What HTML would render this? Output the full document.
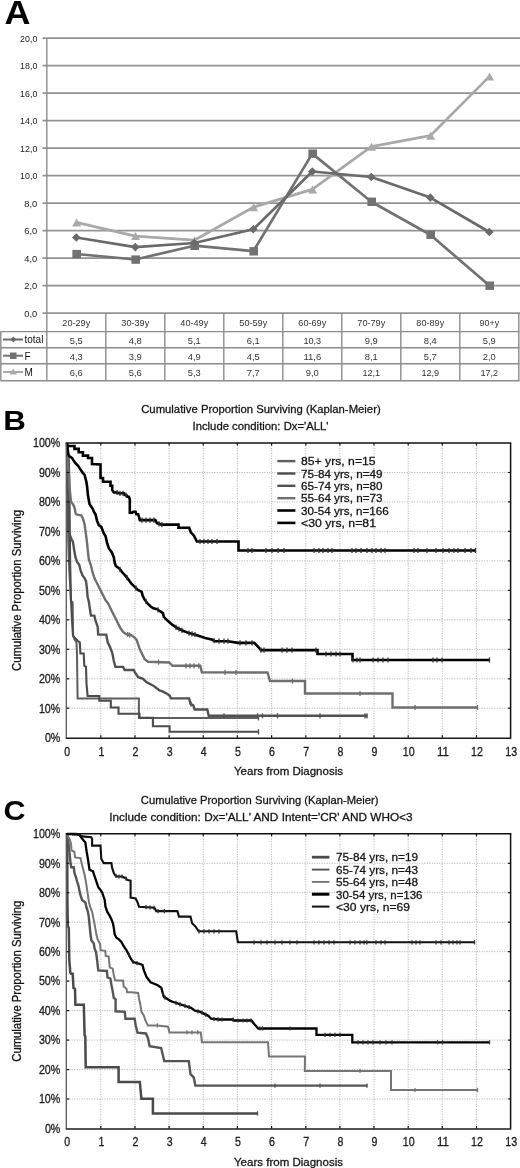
<!DOCTYPE html>
<html><head><meta charset="utf-8"><style>
html,body{margin:0;padding:0;background:#fff;overflow:hidden;}
svg{display:block;font-family:"Liberation Sans", sans-serif;filter:grayscale(100%);}
.k{stroke:#1a1a1a;stroke-width:0.3px;}
</style></head><body>
<svg width="520" height="1168" viewBox="0 0 520 1168">
<rect width="520" height="1168" fill="#fff"/>
<text transform="translate(4.4,23.6) scale(1.09,1)" font-size="33" font-weight="700" fill="#000">A</text>
<line x1="42.5" y1="313.1" x2="520" y2="313.1" stroke="#939393" stroke-width="1.6"/>
<text x="24.3" y="316.5" font-size="8.8" fill="#222" textLength="13.0" lengthAdjust="spacingAndGlyphs">0,0</text>
<line x1="42.5" y1="285.6" x2="520" y2="285.6" stroke="#939393" stroke-width="1.6"/>
<text x="24.3" y="289.0" font-size="8.8" fill="#222" textLength="13.0" lengthAdjust="spacingAndGlyphs">2,0</text>
<line x1="42.5" y1="258.1" x2="520" y2="258.1" stroke="#939393" stroke-width="1.6"/>
<text x="24.3" y="261.5" font-size="8.8" fill="#222" textLength="13.0" lengthAdjust="spacingAndGlyphs">4,0</text>
<line x1="42.5" y1="230.6" x2="520" y2="230.6" stroke="#939393" stroke-width="1.6"/>
<text x="24.3" y="234.0" font-size="8.8" fill="#222" textLength="13.0" lengthAdjust="spacingAndGlyphs">6,0</text>
<line x1="42.5" y1="203.1" x2="520" y2="203.1" stroke="#939393" stroke-width="1.6"/>
<text x="24.3" y="206.5" font-size="8.8" fill="#222" textLength="13.0" lengthAdjust="spacingAndGlyphs">8,0</text>
<line x1="42.5" y1="175.6" x2="520" y2="175.6" stroke="#939393" stroke-width="1.6"/>
<text x="20.1" y="179.0" font-size="8.8" fill="#222" textLength="17.2" lengthAdjust="spacingAndGlyphs">10,0</text>
<line x1="42.5" y1="148.1" x2="520" y2="148.1" stroke="#939393" stroke-width="1.6"/>
<text x="20.1" y="151.5" font-size="8.8" fill="#222" textLength="17.2" lengthAdjust="spacingAndGlyphs">12,0</text>
<line x1="42.5" y1="120.6" x2="520" y2="120.6" stroke="#939393" stroke-width="1.6"/>
<text x="20.1" y="124.0" font-size="8.8" fill="#222" textLength="17.2" lengthAdjust="spacingAndGlyphs">14,0</text>
<line x1="42.5" y1="93.1" x2="520" y2="93.1" stroke="#939393" stroke-width="1.6"/>
<text x="20.1" y="96.5" font-size="8.8" fill="#222" textLength="17.2" lengthAdjust="spacingAndGlyphs">16,0</text>
<line x1="42.5" y1="65.6" x2="520" y2="65.6" stroke="#939393" stroke-width="1.6"/>
<text x="20.1" y="69.0" font-size="8.8" fill="#222" textLength="17.2" lengthAdjust="spacingAndGlyphs">18,0</text>
<line x1="42.5" y1="38.1" x2="520" y2="38.1" stroke="#939393" stroke-width="1.6"/>
<text x="20.1" y="41.5" font-size="8.8" fill="#222" textLength="17.2" lengthAdjust="spacingAndGlyphs">20,0</text>
<line x1="46.8" y1="38" x2="46.8" y2="381" stroke="#8c8c8c" stroke-width="1.4"/>
<line x1="0.5" y1="331.6" x2="519.6" y2="331.6" stroke="#8c8c8c" stroke-width="1.4"/>
<line x1="0.5" y1="347.7" x2="519.6" y2="347.7" stroke="#8c8c8c" stroke-width="1.4"/>
<line x1="0.5" y1="363.8" x2="519.6" y2="363.8" stroke="#8c8c8c" stroke-width="1.4"/>
<line x1="0.5" y1="380.7" x2="519.6" y2="380.7" stroke="#8c8c8c" stroke-width="1.4"/>
<line x1="0.8" y1="331.6" x2="0.8" y2="380.7" stroke="#8c8c8c" stroke-width="1.4"/>
<line x1="105.8" y1="313.1" x2="105.8" y2="380.7" stroke="#8c8c8c" stroke-width="1.4"/>
<line x1="164.8" y1="313.1" x2="164.8" y2="380.7" stroke="#8c8c8c" stroke-width="1.4"/>
<line x1="223.8" y1="313.1" x2="223.8" y2="380.7" stroke="#8c8c8c" stroke-width="1.4"/>
<line x1="282.8" y1="313.1" x2="282.8" y2="380.7" stroke="#8c8c8c" stroke-width="1.4"/>
<line x1="341.8" y1="313.1" x2="341.8" y2="380.7" stroke="#8c8c8c" stroke-width="1.4"/>
<line x1="400.8" y1="313.1" x2="400.8" y2="380.7" stroke="#8c8c8c" stroke-width="1.4"/>
<line x1="459.8" y1="313.1" x2="459.8" y2="380.7" stroke="#8c8c8c" stroke-width="1.4"/>
<line x1="518.8" y1="313.1" x2="518.8" y2="380.7" stroke="#8c8c8c" stroke-width="1.4"/>
<text x="62.3" y="326.4" font-size="9" fill="#333" textLength="28.0" lengthAdjust="spacingAndGlyphs">20-29y</text>
<text x="69.8" y="343.9" font-size="9.5" fill="#333" textLength="13.0" lengthAdjust="spacingAndGlyphs">5,5</text>
<text x="69.8" y="359.8" font-size="9.5" fill="#333" textLength="13.0" lengthAdjust="spacingAndGlyphs">4,3</text>
<text x="69.8" y="376.0" font-size="9.5" fill="#333" textLength="13.0" lengthAdjust="spacingAndGlyphs">6,6</text>
<text x="121.3" y="326.4" font-size="9" fill="#333" textLength="28.0" lengthAdjust="spacingAndGlyphs">30-39y</text>
<text x="128.8" y="343.9" font-size="9.5" fill="#333" textLength="13.0" lengthAdjust="spacingAndGlyphs">4,8</text>
<text x="128.8" y="359.8" font-size="9.5" fill="#333" textLength="13.0" lengthAdjust="spacingAndGlyphs">3,9</text>
<text x="128.8" y="376.0" font-size="9.5" fill="#333" textLength="13.0" lengthAdjust="spacingAndGlyphs">5,6</text>
<text x="180.3" y="326.4" font-size="9" fill="#333" textLength="28.0" lengthAdjust="spacingAndGlyphs">40-49y</text>
<text x="187.8" y="343.9" font-size="9.5" fill="#333" textLength="13.0" lengthAdjust="spacingAndGlyphs">5,1</text>
<text x="187.8" y="359.8" font-size="9.5" fill="#333" textLength="13.0" lengthAdjust="spacingAndGlyphs">4,9</text>
<text x="187.8" y="376.0" font-size="9.5" fill="#333" textLength="13.0" lengthAdjust="spacingAndGlyphs">5,3</text>
<text x="239.3" y="326.4" font-size="9" fill="#333" textLength="28.0" lengthAdjust="spacingAndGlyphs">50-59y</text>
<text x="246.8" y="343.9" font-size="9.5" fill="#333" textLength="13.0" lengthAdjust="spacingAndGlyphs">6,1</text>
<text x="246.8" y="359.8" font-size="9.5" fill="#333" textLength="13.0" lengthAdjust="spacingAndGlyphs">4,5</text>
<text x="246.8" y="376.0" font-size="9.5" fill="#333" textLength="13.0" lengthAdjust="spacingAndGlyphs">7,7</text>
<text x="298.3" y="326.4" font-size="9" fill="#333" textLength="28.0" lengthAdjust="spacingAndGlyphs">60-69y</text>
<text x="303.4" y="343.9" font-size="9.5" fill="#333" textLength="17.8" lengthAdjust="spacingAndGlyphs">10,3</text>
<text x="303.4" y="359.8" font-size="9.5" fill="#333" textLength="17.8" lengthAdjust="spacingAndGlyphs">11,6</text>
<text x="305.8" y="376.0" font-size="9.5" fill="#333" textLength="13.0" lengthAdjust="spacingAndGlyphs">9,0</text>
<text x="357.3" y="326.4" font-size="9" fill="#333" textLength="28.0" lengthAdjust="spacingAndGlyphs">70-79y</text>
<text x="364.8" y="343.9" font-size="9.5" fill="#333" textLength="13.0" lengthAdjust="spacingAndGlyphs">9,9</text>
<text x="364.8" y="359.8" font-size="9.5" fill="#333" textLength="13.0" lengthAdjust="spacingAndGlyphs">8,1</text>
<text x="362.4" y="376.0" font-size="9.5" fill="#333" textLength="17.8" lengthAdjust="spacingAndGlyphs">12,1</text>
<text x="416.3" y="326.4" font-size="9" fill="#333" textLength="28.0" lengthAdjust="spacingAndGlyphs">80-89y</text>
<text x="423.8" y="343.9" font-size="9.5" fill="#333" textLength="13.0" lengthAdjust="spacingAndGlyphs">8,4</text>
<text x="423.8" y="359.8" font-size="9.5" fill="#333" textLength="13.0" lengthAdjust="spacingAndGlyphs">5,7</text>
<text x="421.4" y="376.0" font-size="9.5" fill="#333" textLength="17.8" lengthAdjust="spacingAndGlyphs">12,9</text>
<text x="479.5" y="326.4" font-size="9" fill="#333" textLength="19.6" lengthAdjust="spacingAndGlyphs">90+y</text>
<text x="482.8" y="343.9" font-size="9.5" fill="#333" textLength="13.0" lengthAdjust="spacingAndGlyphs">5,9</text>
<text x="482.8" y="359.8" font-size="9.5" fill="#333" textLength="13.0" lengthAdjust="spacingAndGlyphs">2,0</text>
<text x="480.4" y="376.0" font-size="9.5" fill="#333" textLength="17.8" lengthAdjust="spacingAndGlyphs">17,2</text>
<line x1="3" y1="339.5" x2="23" y2="339.5" stroke="#6a6a6a" stroke-width="2"/>
<path d="M13.3,336.5 L16.3,339.5 L13.3,342.5 L10.3,339.5Z" fill="#6a6a6a"/>
<text x="24.5" y="343.3" font-size="10" fill="#111">total</text>
<line x1="3" y1="355.7" x2="23" y2="355.7" stroke="#727272" stroke-width="2"/>
<rect x="10" y="352.5" width="6.5" height="6.5" fill="#727272"/>
<text x="24.5" y="359.5" font-size="10" fill="#111">F</text>
<line x1="3" y1="372" x2="23" y2="372" stroke="#a9a9a9" stroke-width="2"/>
<path d="M13.3,368.5 L17,374.5 L9.6,374.5Z" fill="#a9a9a9"/>
<text x="24.5" y="375.8" font-size="10" fill="#111">M</text>
<polyline points="76.3,222.4 135.3,236.1 194.3,240.2 253.3,207.2 312.3,189.4 371.3,146.7 430.3,135.7 489.3,76.6" fill="none" stroke="#a9a9a9" stroke-width="2.7" stroke-linejoin="round"/>
<path d="M76.6,218.4 L81.1,226.4 L72.1,226.4Z" fill="#a9a9a9"/>
<path d="M135.6,232.1 L140.1,240.1 L131.1,240.1Z" fill="#a9a9a9"/>
<path d="M194.6,236.2 L199.1,244.2 L190.1,244.2Z" fill="#a9a9a9"/>
<path d="M253.6,203.2 L258.1,211.2 L249.1,211.2Z" fill="#a9a9a9"/>
<path d="M312.6,185.4 L317.1,193.4 L308.1,193.4Z" fill="#a9a9a9"/>
<path d="M371.6,142.7 L376.1,150.7 L367.1,150.7Z" fill="#a9a9a9"/>
<path d="M430.6,131.7 L435.1,139.7 L426.1,139.7Z" fill="#a9a9a9"/>
<path d="M489.6,72.6 L494.1,80.6 L485.1,80.6Z" fill="#a9a9a9"/>
<polyline points="76.3,254.0 135.3,259.5 194.3,245.7 253.3,251.2 312.3,153.6 371.3,201.7 430.3,234.7 489.3,285.6" fill="none" stroke="#727272" stroke-width="2.7" stroke-linejoin="round"/>
<rect x="72.4" y="249.9" width="8.6" height="8.4" fill="#727272"/>
<rect x="131.4" y="255.4" width="8.6" height="8.4" fill="#727272"/>
<rect x="190.4" y="241.6" width="8.6" height="8.4" fill="#727272"/>
<rect x="249.4" y="247.1" width="8.6" height="8.4" fill="#727272"/>
<rect x="308.4" y="149.5" width="8.6" height="8.4" fill="#727272"/>
<rect x="367.4" y="197.6" width="8.6" height="8.4" fill="#727272"/>
<rect x="426.4" y="230.6" width="8.6" height="8.4" fill="#727272"/>
<rect x="485.4" y="281.5" width="8.6" height="8.4" fill="#727272"/>
<polyline points="76.3,237.5 135.3,247.1 194.3,243.0 253.3,229.2 312.3,171.5 371.3,177.0 430.3,197.6 489.3,232.0" fill="none" stroke="#6a6a6a" stroke-width="2.7" stroke-linejoin="round"/>
<path d="M76.3,233.2 L80.6,237.5 L76.3,241.8 L72.0,237.5Z" fill="#6a6a6a"/>
<path d="M135.3,242.8 L139.6,247.1 L135.3,251.4 L131.0,247.1Z" fill="#6a6a6a"/>
<path d="M194.3,238.7 L198.6,243.0 L194.3,247.3 L190.0,243.0Z" fill="#6a6a6a"/>
<path d="M253.3,224.9 L257.6,229.2 L253.3,233.5 L249.0,229.2Z" fill="#6a6a6a"/>
<path d="M312.3,167.2 L316.6,171.5 L312.3,175.8 L308.0,171.5Z" fill="#6a6a6a"/>
<path d="M371.3,172.7 L375.6,177.0 L371.3,181.3 L367.0,177.0Z" fill="#6a6a6a"/>
<path d="M430.3,193.3 L434.6,197.6 L430.3,201.9 L426.0,197.6Z" fill="#6a6a6a"/>
<path d="M489.3,227.7 L493.6,232.0 L489.3,236.3 L485.0,232.0Z" fill="#6a6a6a"/>
<text transform="translate(3.3,429.6) scale(1.17,1)" font-size="26.8" font-weight="700" fill="#000">B</text>
<text class="k" x="141.2" y="413.1" font-size="11.8" fill="#111" textLength="239.5" lengthAdjust="spacingAndGlyphs">Cumulative Proportion Surviving (Kaplan-Meier)</text>
<text class="k" x="192.5" y="430.0" font-size="11.8" fill="#111" textLength="136.0" lengthAdjust="spacingAndGlyphs">Include condition: Dx=&#39;ALL&#39;</text>
<line x1="66.7" y1="472.5" x2="510.6" y2="472.5" stroke="#bababa" stroke-width="1" stroke-dasharray="1.2,1.3"/>
<line x1="66.7" y1="501.9" x2="510.6" y2="501.9" stroke="#bababa" stroke-width="1" stroke-dasharray="1.2,1.3"/>
<line x1="66.7" y1="531.4" x2="510.6" y2="531.4" stroke="#bababa" stroke-width="1" stroke-dasharray="1.2,1.3"/>
<line x1="66.7" y1="560.9" x2="510.6" y2="560.9" stroke="#bababa" stroke-width="1" stroke-dasharray="1.2,1.3"/>
<line x1="66.7" y1="590.4" x2="510.6" y2="590.4" stroke="#bababa" stroke-width="1" stroke-dasharray="1.2,1.3"/>
<line x1="66.7" y1="619.8" x2="510.6" y2="619.8" stroke="#bababa" stroke-width="1" stroke-dasharray="1.2,1.3"/>
<line x1="66.7" y1="649.3" x2="510.6" y2="649.3" stroke="#bababa" stroke-width="1" stroke-dasharray="1.2,1.3"/>
<line x1="66.7" y1="678.8" x2="510.6" y2="678.8" stroke="#bababa" stroke-width="1" stroke-dasharray="1.2,1.3"/>
<line x1="66.7" y1="708.2" x2="510.6" y2="708.2" stroke="#bababa" stroke-width="1" stroke-dasharray="1.2,1.3"/>
<line x1="100.8" y1="443" x2="100.8" y2="737.7" stroke="#bababa" stroke-width="1" stroke-dasharray="1.2,1.3"/>
<line x1="135.0" y1="443" x2="135.0" y2="737.7" stroke="#bababa" stroke-width="1" stroke-dasharray="1.2,1.3"/>
<line x1="169.1" y1="443" x2="169.1" y2="737.7" stroke="#bababa" stroke-width="1" stroke-dasharray="1.2,1.3"/>
<line x1="203.3" y1="443" x2="203.3" y2="737.7" stroke="#bababa" stroke-width="1" stroke-dasharray="1.2,1.3"/>
<line x1="237.4" y1="443" x2="237.4" y2="737.7" stroke="#bababa" stroke-width="1" stroke-dasharray="1.2,1.3"/>
<line x1="271.6" y1="443" x2="271.6" y2="737.7" stroke="#bababa" stroke-width="1" stroke-dasharray="1.2,1.3"/>
<line x1="305.8" y1="443" x2="305.8" y2="737.7" stroke="#bababa" stroke-width="1" stroke-dasharray="1.2,1.3"/>
<line x1="339.9" y1="443" x2="339.9" y2="737.7" stroke="#bababa" stroke-width="1" stroke-dasharray="1.2,1.3"/>
<line x1="374.0" y1="443" x2="374.0" y2="737.7" stroke="#bababa" stroke-width="1" stroke-dasharray="1.2,1.3"/>
<line x1="408.2" y1="443" x2="408.2" y2="737.7" stroke="#bababa" stroke-width="1" stroke-dasharray="1.2,1.3"/>
<line x1="442.3" y1="443" x2="442.3" y2="737.7" stroke="#bababa" stroke-width="1" stroke-dasharray="1.2,1.3"/>
<line x1="476.5" y1="443" x2="476.5" y2="737.7" stroke="#bababa" stroke-width="1" stroke-dasharray="1.2,1.3"/>
<text class="k" x="44.9" y="742.0" font-size="12" fill="#222" textLength="15.4" lengthAdjust="spacingAndGlyphs">0%</text>
<text class="k" x="38.9" y="712.5" font-size="12" fill="#222" textLength="21.4" lengthAdjust="spacingAndGlyphs">10%</text>
<text class="k" x="38.9" y="683.1" font-size="12" fill="#222" textLength="21.4" lengthAdjust="spacingAndGlyphs">20%</text>
<text class="k" x="38.9" y="653.6" font-size="12" fill="#222" textLength="21.4" lengthAdjust="spacingAndGlyphs">30%</text>
<text class="k" x="38.9" y="624.1" font-size="12" fill="#222" textLength="21.4" lengthAdjust="spacingAndGlyphs">40%</text>
<text class="k" x="38.9" y="594.6" font-size="12" fill="#222" textLength="21.4" lengthAdjust="spacingAndGlyphs">50%</text>
<text class="k" x="38.9" y="565.2" font-size="12" fill="#222" textLength="21.4" lengthAdjust="spacingAndGlyphs">60%</text>
<text class="k" x="38.9" y="535.7" font-size="12" fill="#222" textLength="21.4" lengthAdjust="spacingAndGlyphs">70%</text>
<text class="k" x="38.9" y="506.2" font-size="12" fill="#222" textLength="21.4" lengthAdjust="spacingAndGlyphs">80%</text>
<text class="k" x="38.9" y="476.8" font-size="12" fill="#222" textLength="21.4" lengthAdjust="spacingAndGlyphs">90%</text>
<text class="k" x="33.0" y="447.3" font-size="12" fill="#222" textLength="27.3" lengthAdjust="spacingAndGlyphs">100%</text>
<text class="k" x="64.2" y="755.5" font-size="12" fill="#222" textLength="5.9" lengthAdjust="spacingAndGlyphs">0</text>
<text class="k" x="98.4" y="755.5" font-size="12" fill="#222" textLength="5.9" lengthAdjust="spacingAndGlyphs">1</text>
<text class="k" x="132.5" y="755.5" font-size="12" fill="#222" textLength="5.9" lengthAdjust="spacingAndGlyphs">2</text>
<text class="k" x="166.7" y="755.5" font-size="12" fill="#222" textLength="5.9" lengthAdjust="spacingAndGlyphs">3</text>
<text class="k" x="200.8" y="755.5" font-size="12" fill="#222" textLength="5.9" lengthAdjust="spacingAndGlyphs">4</text>
<text class="k" x="235.0" y="755.5" font-size="12" fill="#222" textLength="5.9" lengthAdjust="spacingAndGlyphs">5</text>
<text class="k" x="269.1" y="755.5" font-size="12" fill="#222" textLength="5.9" lengthAdjust="spacingAndGlyphs">6</text>
<text class="k" x="303.3" y="755.5" font-size="12" fill="#222" textLength="5.9" lengthAdjust="spacingAndGlyphs">7</text>
<text class="k" x="337.4" y="755.5" font-size="12" fill="#222" textLength="5.9" lengthAdjust="spacingAndGlyphs">8</text>
<text class="k" x="371.6" y="755.5" font-size="12" fill="#222" textLength="5.9" lengthAdjust="spacingAndGlyphs">9</text>
<text class="k" x="402.8" y="755.5" font-size="12" fill="#222" textLength="11.9" lengthAdjust="spacingAndGlyphs">10</text>
<text class="k" x="436.9" y="755.5" font-size="12" fill="#222" textLength="11.9" lengthAdjust="spacingAndGlyphs">11</text>
<text class="k" x="471.1" y="755.5" font-size="12" fill="#222" textLength="11.9" lengthAdjust="spacingAndGlyphs">12</text>
<text class="k" x="505.2" y="755.5" font-size="12" fill="#222" textLength="11.9" lengthAdjust="spacingAndGlyphs">13</text>
<text class="k" x="234.0" y="775.2" font-size="11.8" fill="#111" textLength="109" lengthAdjust="spacingAndGlyphs">Years from Diagnosis</text>
<text class="k" transform="translate(20.6,670.9) rotate(-90)" x="0" y="0" font-size="12.2" fill="#111" textLength="161" lengthAdjust="spacingAndGlyphs">Cumulative Proportion Surviving</text>
<polyline points="67.0,443.0 67.6,455.0 67.9,500.0 68.2,540.0 68.8,560.0 69.8,580.0 70.4,590.0 70.9,601.0 72.6,602.3 73.1,634.6 74.3,639.0 76.5,642.4 77.0,654.6 77.6,698.6 138.9,698.6 138.9,717.9 258.9,717.9" fill="none" stroke="#5e5e5e" stroke-width="2.0" stroke-linejoin="miter"/>
<polyline points="67.0,443.0 68.6,453.0 69.4,480.0 69.8,530.0 70.2,565.0 71.0,600.0 72.0,620.0 73.0,636.0 78.2,641.3 79.8,642.4 80.4,653.5 83.7,653.5 84.3,665.8 86.0,666.9 86.5,683.6 87.6,696.0 99.3,696.0 99.3,700.8 110.8,700.8 110.8,707.5 118.5,707.5 118.5,713.7 139.5,713.7 139.5,717.9 152.9,717.9 152.9,726.3 169.6,726.3 169.6,731.8 258.9,731.8" fill="none" stroke="#4c4c4c" stroke-width="2.1" stroke-linejoin="miter"/>
<polyline points="67.0,443.0 67.4,480.0 68.1,520.0 68.7,531.8 71.2,538.5 72.9,541.9 73.7,546.9 74.5,551.9 75.4,556.9 77.1,561.9 79.2,564.7 80.5,570.1 82.6,575.6 84.7,578.4 86.0,581.1 86.9,588.1 87.6,596.7 88.8,601.5 90.4,612.3 91.0,615.6 94.3,615.6 95.4,620.1 96.5,623.4 97.7,626.8 98.2,634.6 106.2,634.6 107.7,642.3 110.0,646.9 112.3,653.1 113.8,660.8 115.4,666.9 123.1,666.9 124.6,670.0 133.8,670.0 134.9,672.3 138.2,677.2 143.1,678.8 146.3,682.1 152.9,685.4 159.4,690.3 161.3,690.8 165.4,692.8 169.6,695.6 171.0,698.4 189.1,698.4 190.5,703.9 193.3,705.3 194.7,709.5 207.3,709.5 208.7,715.8 367.5,715.8" fill="none" stroke="#515151" stroke-width="2.4" stroke-linejoin="miter"/>
<polyline points="67.0,443.0 67.5,455.0 68.2,467.4 69.6,488.0 71.0,501.6 73.0,504.4 74.4,507.1 75.8,514.0 77.1,514.7 81.2,515.3 82.9,518.4 84.6,524.3 85.4,530.2 86.3,536.8 87.1,543.5 87.9,551.5 88.8,559.2 90.8,565.0 92.7,572.7 94.6,578.5 96.5,582.3 98.5,586.2 100.4,590.0 103.3,595.8 105.2,599.6 108.1,603.5 110.0,607.3 111.9,611.2 113.8,615.0 115.8,618.8 117.7,622.7 120.6,628.5 123.5,632.3 126.3,634.2 131.2,635.2 134.0,637.1 136.5,639.6 139.8,649.4 144.7,659.2 148.0,661.8 169.2,662.5 172.5,665.8 200.3,665.8 201.9,672.3 267.5,672.5 270.0,681.0 305.0,681.0 305.0,693.5 392.5,693.5 392.5,707.5 477.5,707.5" fill="none" stroke="#6f6f6f" stroke-width="2.4" stroke-linejoin="miter"/>
<polyline points="67.0,443.0 67.9,453.9 69.5,456.4 72.0,458.0 73.7,460.6 75.4,463.1 77.9,465.6 79.6,468.1 81.2,470.6 82.9,473.1 84.6,474.8 85.4,478.2 86.3,481.5 87.1,486.5 87.9,495.0 88.8,500.0 89.6,504.2 91.3,506.7 93.0,509.2 93.8,511.8 95.5,514.3 96.3,517.6 97.1,521.0 98.8,525.1 101.3,526.8 102.2,529.3 103.8,533.5 105.5,536.0 106.3,539.4 107.2,543.5 109.0,548.7 111.9,552.5 113.8,557.3 114.8,563.1 115.8,566.0 119.6,568.8 122.5,572.7 125.4,575.6 128.3,579.4 131.2,583.3 134.0,586.2 137.9,590.0 141.7,591.9 142.7,595.8 144.6,599.6 147.5,603.5 150.4,606.3 153.3,608.3 157.1,609.2 160.0,611.2 162.9,613.1 163.8,616.9 167.7,620.8 172.5,624.9 177.4,628.2 182.3,630.5 188.8,633.1 195.4,634.7 205.2,638.0 211.7,639.6 215.0,641.2 228.1,641.2 237.9,642.9 254.2,642.9 259.1,647.8 260.8,650.1 317.5,650.1 317.5,654.0 352.5,654.0 352.5,660.0 490.0,660.0" fill="none" stroke="#000" stroke-width="2.6" stroke-linejoin="miter"/>
<polyline points="67.0,446.0 74.5,446.0 74.5,448.9 78.7,448.9 78.7,452.2 82.9,452.2 82.9,455.6 88.0,455.6 88.0,458.0 92.0,458.0 92.0,464.0 100.5,464.5 100.5,478.0 103.0,478.0 103.0,481.8 110.5,481.8 110.5,485.7 112.2,485.7 112.2,490.0 113.9,492.5 117.2,492.5 118.9,493.3 123.9,493.3 124.7,495.0 126.4,495.0 127.2,496.7 128.9,496.7 129.8,499.2 129.8,512.6 132.3,512.6 133.1,511.8 135.6,511.8 136.4,514.3 138.1,514.3 139.0,516.8 139.8,520.1 155.4,520.1 156.9,523.1 161.5,524.6 178.5,524.6 178.5,527.7 189.2,527.7 190.8,532.3 193.8,535.4 196.9,541.5 238.5,541.5 238.5,550.5 475.5,550.5" fill="none" stroke="#000" stroke-width="2.6" stroke-linejoin="miter"/>
<line x1="117.0" y1="489.9" x2="117.0" y2="495.1" stroke="#333" stroke-width="1.3"/>
<line x1="120.0" y1="490.7" x2="120.0" y2="495.9" stroke="#333" stroke-width="1.3"/>
<line x1="123.0" y1="490.7" x2="123.0" y2="495.9" stroke="#333" stroke-width="1.3"/>
<line x1="126.0" y1="492.4" x2="126.0" y2="497.6" stroke="#333" stroke-width="1.3"/>
<line x1="142.0" y1="517.5" x2="142.0" y2="522.7" stroke="#333" stroke-width="1.3"/>
<line x1="146.0" y1="517.5" x2="146.0" y2="522.7" stroke="#333" stroke-width="1.3"/>
<line x1="150.0" y1="517.5" x2="150.0" y2="522.7" stroke="#333" stroke-width="1.3"/>
<line x1="154.0" y1="517.5" x2="154.0" y2="522.7" stroke="#333" stroke-width="1.3"/>
<line x1="159.0" y1="521.2" x2="159.0" y2="526.4" stroke="#333" stroke-width="1.3"/>
<line x1="162.0" y1="522.0" x2="162.0" y2="527.2" stroke="#333" stroke-width="1.3"/>
<line x1="200.0" y1="538.9" x2="200.0" y2="544.1" stroke="#333" stroke-width="1.3"/>
<line x1="204.0" y1="538.9" x2="204.0" y2="544.1" stroke="#333" stroke-width="1.3"/>
<line x1="208.0" y1="538.9" x2="208.0" y2="544.1" stroke="#333" stroke-width="1.3"/>
<line x1="212.0" y1="538.9" x2="212.0" y2="544.1" stroke="#333" stroke-width="1.3"/>
<line x1="217.0" y1="538.9" x2="217.0" y2="544.1" stroke="#333" stroke-width="1.3"/>
<line x1="248.0" y1="547.9" x2="248.0" y2="553.1" stroke="#333" stroke-width="1.3"/>
<line x1="252.0" y1="547.9" x2="252.0" y2="553.1" stroke="#333" stroke-width="1.3"/>
<line x1="266.0" y1="547.9" x2="266.0" y2="553.1" stroke="#333" stroke-width="1.3"/>
<line x1="272.0" y1="547.9" x2="272.0" y2="553.1" stroke="#333" stroke-width="1.3"/>
<line x1="278.0" y1="547.9" x2="278.0" y2="553.1" stroke="#333" stroke-width="1.3"/>
<line x1="284.0" y1="547.9" x2="284.0" y2="553.1" stroke="#333" stroke-width="1.3"/>
<line x1="314.0" y1="547.9" x2="314.0" y2="553.1" stroke="#333" stroke-width="1.3"/>
<line x1="319.0" y1="547.9" x2="319.0" y2="553.1" stroke="#333" stroke-width="1.3"/>
<line x1="323.0" y1="547.9" x2="323.0" y2="553.1" stroke="#333" stroke-width="1.3"/>
<line x1="328.0" y1="547.9" x2="328.0" y2="553.1" stroke="#333" stroke-width="1.3"/>
<line x1="332.0" y1="547.9" x2="332.0" y2="553.1" stroke="#333" stroke-width="1.3"/>
<line x1="352.0" y1="547.9" x2="352.0" y2="553.1" stroke="#333" stroke-width="1.3"/>
<line x1="356.0" y1="547.9" x2="356.0" y2="553.1" stroke="#333" stroke-width="1.3"/>
<line x1="361.0" y1="547.9" x2="361.0" y2="553.1" stroke="#333" stroke-width="1.3"/>
<line x1="367.0" y1="547.9" x2="367.0" y2="553.1" stroke="#333" stroke-width="1.3"/>
<line x1="372.0" y1="547.9" x2="372.0" y2="553.1" stroke="#333" stroke-width="1.3"/>
<line x1="376.0" y1="547.9" x2="376.0" y2="553.1" stroke="#333" stroke-width="1.3"/>
<line x1="381.0" y1="547.9" x2="381.0" y2="553.1" stroke="#333" stroke-width="1.3"/>
<line x1="385.0" y1="547.9" x2="385.0" y2="553.1" stroke="#333" stroke-width="1.3"/>
<line x1="414.0" y1="547.9" x2="414.0" y2="553.1" stroke="#333" stroke-width="1.3"/>
<line x1="418.0" y1="547.9" x2="418.0" y2="553.1" stroke="#333" stroke-width="1.3"/>
<line x1="427.0" y1="547.9" x2="427.0" y2="553.1" stroke="#333" stroke-width="1.3"/>
<line x1="436.0" y1="547.9" x2="436.0" y2="553.1" stroke="#333" stroke-width="1.3"/>
<line x1="443.0" y1="547.9" x2="443.0" y2="553.1" stroke="#333" stroke-width="1.3"/>
<line x1="449.0" y1="547.9" x2="449.0" y2="553.1" stroke="#333" stroke-width="1.3"/>
<line x1="454.0" y1="547.9" x2="454.0" y2="553.1" stroke="#333" stroke-width="1.3"/>
<line x1="458.0" y1="547.9" x2="458.0" y2="553.1" stroke="#333" stroke-width="1.3"/>
<line x1="465.0" y1="547.9" x2="465.0" y2="553.1" stroke="#333" stroke-width="1.3"/>
<line x1="471.0" y1="547.9" x2="471.0" y2="553.1" stroke="#333" stroke-width="1.3"/>
<line x1="475.5" y1="547.9" x2="475.5" y2="553.1" stroke="#333" stroke-width="1.3"/>
<line x1="120.0" y1="566.7" x2="120.0" y2="571.9" stroke="#333" stroke-width="1.3"/>
<line x1="127.0" y1="575.1" x2="127.0" y2="580.3" stroke="#333" stroke-width="1.3"/>
<line x1="136.0" y1="585.5" x2="136.0" y2="590.7" stroke="#333" stroke-width="1.3"/>
<line x1="146.0" y1="598.9" x2="146.0" y2="604.1" stroke="#333" stroke-width="1.3"/>
<line x1="158.0" y1="607.2" x2="158.0" y2="612.4" stroke="#333" stroke-width="1.3"/>
<line x1="176.0" y1="624.7" x2="176.0" y2="629.9" stroke="#333" stroke-width="1.3"/>
<line x1="179.0" y1="626.4" x2="179.0" y2="631.6" stroke="#333" stroke-width="1.3"/>
<line x1="182.0" y1="627.8" x2="182.0" y2="633.0" stroke="#333" stroke-width="1.3"/>
<line x1="189.0" y1="630.5" x2="189.0" y2="635.7" stroke="#333" stroke-width="1.3"/>
<line x1="192.0" y1="631.3" x2="192.0" y2="636.5" stroke="#333" stroke-width="1.3"/>
<line x1="195.0" y1="632.0" x2="195.0" y2="637.2" stroke="#333" stroke-width="1.3"/>
<line x1="214.0" y1="638.1" x2="214.0" y2="643.3" stroke="#333" stroke-width="1.3"/>
<line x1="219.0" y1="638.6" x2="219.0" y2="643.8" stroke="#333" stroke-width="1.3"/>
<line x1="224.0" y1="638.6" x2="224.0" y2="643.8" stroke="#333" stroke-width="1.3"/>
<line x1="228.0" y1="638.6" x2="228.0" y2="643.8" stroke="#333" stroke-width="1.3"/>
<line x1="240.0" y1="640.3" x2="240.0" y2="645.5" stroke="#333" stroke-width="1.3"/>
<line x1="246.0" y1="640.3" x2="246.0" y2="645.5" stroke="#333" stroke-width="1.3"/>
<line x1="252.0" y1="640.3" x2="252.0" y2="645.5" stroke="#333" stroke-width="1.3"/>
<line x1="261.0" y1="647.5" x2="261.0" y2="652.7" stroke="#333" stroke-width="1.3"/>
<line x1="264.0" y1="647.5" x2="264.0" y2="652.7" stroke="#333" stroke-width="1.3"/>
<line x1="282.0" y1="647.5" x2="282.0" y2="652.7" stroke="#333" stroke-width="1.3"/>
<line x1="287.0" y1="647.5" x2="287.0" y2="652.7" stroke="#333" stroke-width="1.3"/>
<line x1="292.0" y1="647.5" x2="292.0" y2="652.7" stroke="#333" stroke-width="1.3"/>
<line x1="316.0" y1="647.5" x2="316.0" y2="652.7" stroke="#333" stroke-width="1.3"/>
<line x1="326.0" y1="651.4" x2="326.0" y2="656.6" stroke="#333" stroke-width="1.3"/>
<line x1="331.0" y1="651.4" x2="331.0" y2="656.6" stroke="#333" stroke-width="1.3"/>
<line x1="336.0" y1="651.4" x2="336.0" y2="656.6" stroke="#333" stroke-width="1.3"/>
<line x1="340.0" y1="651.4" x2="340.0" y2="656.6" stroke="#333" stroke-width="1.3"/>
<line x1="353.0" y1="657.4" x2="353.0" y2="662.6" stroke="#333" stroke-width="1.3"/>
<line x1="357.0" y1="657.4" x2="357.0" y2="662.6" stroke="#333" stroke-width="1.3"/>
<line x1="360.0" y1="657.4" x2="360.0" y2="662.6" stroke="#333" stroke-width="1.3"/>
<line x1="373.0" y1="657.4" x2="373.0" y2="662.6" stroke="#333" stroke-width="1.3"/>
<line x1="378.0" y1="657.4" x2="378.0" y2="662.6" stroke="#333" stroke-width="1.3"/>
<line x1="383.0" y1="657.4" x2="383.0" y2="662.6" stroke="#333" stroke-width="1.3"/>
<line x1="388.0" y1="657.4" x2="388.0" y2="662.6" stroke="#333" stroke-width="1.3"/>
<line x1="433.0" y1="657.4" x2="433.0" y2="662.6" stroke="#333" stroke-width="1.3"/>
<line x1="437.0" y1="657.4" x2="437.0" y2="662.6" stroke="#333" stroke-width="1.3"/>
<line x1="442.0" y1="657.4" x2="442.0" y2="662.6" stroke="#333" stroke-width="1.3"/>
<line x1="489.5" y1="657.4" x2="489.5" y2="662.6" stroke="#333" stroke-width="1.3"/>
<line x1="127.7" y1="631.9" x2="127.7" y2="637.1" stroke="#6f6f6f" stroke-width="1.3"/>
<line x1="129.6" y1="632.3" x2="129.6" y2="637.5" stroke="#6f6f6f" stroke-width="1.3"/>
<line x1="158.5" y1="659.5" x2="158.5" y2="664.7" stroke="#6f6f6f" stroke-width="1.3"/>
<line x1="186.0" y1="663.2" x2="186.0" y2="668.4" stroke="#6f6f6f" stroke-width="1.3"/>
<line x1="190.0" y1="663.2" x2="190.0" y2="668.4" stroke="#6f6f6f" stroke-width="1.3"/>
<line x1="194.0" y1="663.2" x2="194.0" y2="668.4" stroke="#6f6f6f" stroke-width="1.3"/>
<line x1="198.8" y1="663.2" x2="198.8" y2="668.4" stroke="#6f6f6f" stroke-width="1.3"/>
<line x1="225.0" y1="669.8" x2="225.0" y2="675.0" stroke="#6f6f6f" stroke-width="1.3"/>
<line x1="236.0" y1="669.8" x2="236.0" y2="675.0" stroke="#6f6f6f" stroke-width="1.3"/>
<line x1="292.5" y1="678.4" x2="292.5" y2="683.6" stroke="#6f6f6f" stroke-width="1.3"/>
<line x1="360.0" y1="690.9" x2="360.0" y2="696.1" stroke="#6f6f6f" stroke-width="1.3"/>
<line x1="415.0" y1="704.9" x2="415.0" y2="710.1" stroke="#6f6f6f" stroke-width="1.3"/>
<line x1="477.5" y1="704.9" x2="477.5" y2="710.1" stroke="#6f6f6f" stroke-width="1.3"/>
<line x1="191.0" y1="701.5" x2="191.0" y2="706.8" stroke="#515151" stroke-width="1.3"/>
<line x1="224.0" y1="713.2" x2="224.0" y2="718.4" stroke="#515151" stroke-width="1.3"/>
<line x1="257.5" y1="713.2" x2="257.5" y2="718.4" stroke="#515151" stroke-width="1.3"/>
<line x1="262.5" y1="713.2" x2="262.5" y2="718.4" stroke="#515151" stroke-width="1.3"/>
<line x1="277.5" y1="713.2" x2="277.5" y2="718.4" stroke="#515151" stroke-width="1.3"/>
<line x1="320.0" y1="713.2" x2="320.0" y2="718.4" stroke="#515151" stroke-width="1.3"/>
<line x1="365.0" y1="713.2" x2="365.0" y2="718.4" stroke="#515151" stroke-width="1.3"/>
<line x1="367.0" y1="713.2" x2="367.0" y2="718.4" stroke="#515151" stroke-width="1.3"/>
<line x1="258.5" y1="715.3" x2="258.5" y2="720.5" stroke="#5e5e5e" stroke-width="1.3"/>
<line x1="258.5" y1="729.2" x2="258.5" y2="734.4" stroke="#4c4c4c" stroke-width="1.3"/>
<line x1="66.3" y1="443" x2="66.3" y2="737.7" stroke="#5a5a5a" stroke-width="1.3"/>
<line x1="65.7" y1="443" x2="511.3" y2="443" stroke="#111" stroke-width="1.5"/>
<line x1="65.7" y1="738.2" x2="511.3" y2="738.2" stroke="#1a1a1a" stroke-width="1.6"/>
<line x1="510.6" y1="443" x2="510.6" y2="737.7" stroke="#111" stroke-width="1.5"/>
<line x1="100.8" y1="737.7" x2="100.8" y2="735.2" stroke="#111" stroke-width="1.2"/>
<line x1="100.8" y1="443" x2="100.8" y2="445.5" stroke="#111" stroke-width="1.2"/>
<line x1="135.0" y1="737.7" x2="135.0" y2="735.2" stroke="#111" stroke-width="1.2"/>
<line x1="135.0" y1="443" x2="135.0" y2="445.5" stroke="#111" stroke-width="1.2"/>
<line x1="169.1" y1="737.7" x2="169.1" y2="735.2" stroke="#111" stroke-width="1.2"/>
<line x1="169.1" y1="443" x2="169.1" y2="445.5" stroke="#111" stroke-width="1.2"/>
<line x1="203.3" y1="737.7" x2="203.3" y2="735.2" stroke="#111" stroke-width="1.2"/>
<line x1="203.3" y1="443" x2="203.3" y2="445.5" stroke="#111" stroke-width="1.2"/>
<line x1="237.4" y1="737.7" x2="237.4" y2="735.2" stroke="#111" stroke-width="1.2"/>
<line x1="237.4" y1="443" x2="237.4" y2="445.5" stroke="#111" stroke-width="1.2"/>
<line x1="271.6" y1="737.7" x2="271.6" y2="735.2" stroke="#111" stroke-width="1.2"/>
<line x1="271.6" y1="443" x2="271.6" y2="445.5" stroke="#111" stroke-width="1.2"/>
<line x1="305.8" y1="737.7" x2="305.8" y2="735.2" stroke="#111" stroke-width="1.2"/>
<line x1="305.8" y1="443" x2="305.8" y2="445.5" stroke="#111" stroke-width="1.2"/>
<line x1="339.9" y1="737.7" x2="339.9" y2="735.2" stroke="#111" stroke-width="1.2"/>
<line x1="339.9" y1="443" x2="339.9" y2="445.5" stroke="#111" stroke-width="1.2"/>
<line x1="374.0" y1="737.7" x2="374.0" y2="735.2" stroke="#111" stroke-width="1.2"/>
<line x1="374.0" y1="443" x2="374.0" y2="445.5" stroke="#111" stroke-width="1.2"/>
<line x1="408.2" y1="737.7" x2="408.2" y2="735.2" stroke="#111" stroke-width="1.2"/>
<line x1="408.2" y1="443" x2="408.2" y2="445.5" stroke="#111" stroke-width="1.2"/>
<line x1="442.3" y1="737.7" x2="442.3" y2="735.2" stroke="#111" stroke-width="1.2"/>
<line x1="442.3" y1="443" x2="442.3" y2="445.5" stroke="#111" stroke-width="1.2"/>
<line x1="476.5" y1="737.7" x2="476.5" y2="735.2" stroke="#111" stroke-width="1.2"/>
<line x1="476.5" y1="443" x2="476.5" y2="445.5" stroke="#111" stroke-width="1.2"/>
<line x1="66.7" y1="472.5" x2="69.2" y2="472.5" stroke="#111" stroke-width="1.2"/>
<line x1="510.6" y1="472.5" x2="508.1" y2="472.5" stroke="#111" stroke-width="1.2"/>
<line x1="66.7" y1="501.9" x2="69.2" y2="501.9" stroke="#111" stroke-width="1.2"/>
<line x1="510.6" y1="501.9" x2="508.1" y2="501.9" stroke="#111" stroke-width="1.2"/>
<line x1="66.7" y1="531.4" x2="69.2" y2="531.4" stroke="#111" stroke-width="1.2"/>
<line x1="510.6" y1="531.4" x2="508.1" y2="531.4" stroke="#111" stroke-width="1.2"/>
<line x1="66.7" y1="560.9" x2="69.2" y2="560.9" stroke="#111" stroke-width="1.2"/>
<line x1="510.6" y1="560.9" x2="508.1" y2="560.9" stroke="#111" stroke-width="1.2"/>
<line x1="66.7" y1="590.4" x2="69.2" y2="590.4" stroke="#111" stroke-width="1.2"/>
<line x1="510.6" y1="590.4" x2="508.1" y2="590.4" stroke="#111" stroke-width="1.2"/>
<line x1="66.7" y1="619.8" x2="69.2" y2="619.8" stroke="#111" stroke-width="1.2"/>
<line x1="510.6" y1="619.8" x2="508.1" y2="619.8" stroke="#111" stroke-width="1.2"/>
<line x1="66.7" y1="649.3" x2="69.2" y2="649.3" stroke="#111" stroke-width="1.2"/>
<line x1="510.6" y1="649.3" x2="508.1" y2="649.3" stroke="#111" stroke-width="1.2"/>
<line x1="66.7" y1="678.8" x2="69.2" y2="678.8" stroke="#111" stroke-width="1.2"/>
<line x1="510.6" y1="678.8" x2="508.1" y2="678.8" stroke="#111" stroke-width="1.2"/>
<line x1="66.7" y1="708.2" x2="69.2" y2="708.2" stroke="#111" stroke-width="1.2"/>
<line x1="510.6" y1="708.2" x2="508.1" y2="708.2" stroke="#111" stroke-width="1.2"/>
<line x1="277.3" y1="461.1" x2="295.4" y2="461.1" stroke="#5e5e5e" stroke-width="2.4"/>
<text class="k" x="301" y="465.3" font-size="11.8" fill="#111" textLength="74.6" lengthAdjust="spacingAndGlyphs">85+ yrs, n=15</text>
<line x1="277.3" y1="473.5" x2="295.4" y2="473.5" stroke="#4c4c4c" stroke-width="2.4"/>
<text class="k" x="301" y="477.7" font-size="11.8" fill="#111" textLength="81.5" lengthAdjust="spacingAndGlyphs">75-84 yrs, n=49</text>
<line x1="277.3" y1="485.8" x2="295.4" y2="485.8" stroke="#515151" stroke-width="2.4"/>
<text class="k" x="301" y="490.0" font-size="11.8" fill="#111" textLength="81.5" lengthAdjust="spacingAndGlyphs">65-74 yrs, n=80</text>
<line x1="277.3" y1="498.2" x2="295.4" y2="498.2" stroke="#6f6f6f" stroke-width="2.4"/>
<text class="k" x="301" y="502.4" font-size="11.8" fill="#111" textLength="81.5" lengthAdjust="spacingAndGlyphs">55-64 yrs, n=73</text>
<line x1="277.3" y1="510.5" x2="295.4" y2="510.5" stroke="#000" stroke-width="2.6"/>
<text class="k" x="301" y="514.7" font-size="11.8" fill="#111" textLength="87.7" lengthAdjust="spacingAndGlyphs">30-54 yrs, n=166</text>
<line x1="277.3" y1="522.9" x2="295.4" y2="522.9" stroke="#000" stroke-width="2.6"/>
<text class="k" x="301" y="527.1" font-size="11.8" fill="#111" textLength="75" lengthAdjust="spacingAndGlyphs">&lt;30 yrs, n=81</text>
<text transform="translate(3.4,819.8) scale(1.07,1)" font-size="28.5" font-weight="700" fill="#000">C</text>
<text class="k" x="140.8" y="803.9" font-size="11.8" fill="#111" textLength="237.7" lengthAdjust="spacingAndGlyphs">Cumulative Proportion Surviving (Kaplan-Meier)</text>
<text class="k" x="109.2" y="820.8" font-size="11.8" fill="#111" textLength="303.3" lengthAdjust="spacingAndGlyphs">Include condition: Dx=&#39;ALL&#39; AND Intent=&#39;CR&#39; AND WHO&lt;3</text>
<line x1="66.7" y1="863.3" x2="510.6" y2="863.3" stroke="#bababa" stroke-width="1" stroke-dasharray="1.2,1.3"/>
<line x1="66.7" y1="892.7" x2="510.6" y2="892.7" stroke="#bababa" stroke-width="1" stroke-dasharray="1.2,1.3"/>
<line x1="66.7" y1="922.2" x2="510.6" y2="922.2" stroke="#bababa" stroke-width="1" stroke-dasharray="1.2,1.3"/>
<line x1="66.7" y1="951.7" x2="510.6" y2="951.7" stroke="#bababa" stroke-width="1" stroke-dasharray="1.2,1.3"/>
<line x1="66.7" y1="981.1" x2="510.6" y2="981.1" stroke="#bababa" stroke-width="1" stroke-dasharray="1.2,1.3"/>
<line x1="66.7" y1="1010.6" x2="510.6" y2="1010.6" stroke="#bababa" stroke-width="1" stroke-dasharray="1.2,1.3"/>
<line x1="66.7" y1="1040.1" x2="510.6" y2="1040.1" stroke="#bababa" stroke-width="1" stroke-dasharray="1.2,1.3"/>
<line x1="66.7" y1="1069.6" x2="510.6" y2="1069.6" stroke="#bababa" stroke-width="1" stroke-dasharray="1.2,1.3"/>
<line x1="66.7" y1="1099.0" x2="510.6" y2="1099.0" stroke="#bababa" stroke-width="1" stroke-dasharray="1.2,1.3"/>
<line x1="100.8" y1="833.8" x2="100.8" y2="1128.5" stroke="#bababa" stroke-width="1" stroke-dasharray="1.2,1.3"/>
<line x1="135.0" y1="833.8" x2="135.0" y2="1128.5" stroke="#bababa" stroke-width="1" stroke-dasharray="1.2,1.3"/>
<line x1="169.1" y1="833.8" x2="169.1" y2="1128.5" stroke="#bababa" stroke-width="1" stroke-dasharray="1.2,1.3"/>
<line x1="203.3" y1="833.8" x2="203.3" y2="1128.5" stroke="#bababa" stroke-width="1" stroke-dasharray="1.2,1.3"/>
<line x1="237.4" y1="833.8" x2="237.4" y2="1128.5" stroke="#bababa" stroke-width="1" stroke-dasharray="1.2,1.3"/>
<line x1="271.6" y1="833.8" x2="271.6" y2="1128.5" stroke="#bababa" stroke-width="1" stroke-dasharray="1.2,1.3"/>
<line x1="305.8" y1="833.8" x2="305.8" y2="1128.5" stroke="#bababa" stroke-width="1" stroke-dasharray="1.2,1.3"/>
<line x1="339.9" y1="833.8" x2="339.9" y2="1128.5" stroke="#bababa" stroke-width="1" stroke-dasharray="1.2,1.3"/>
<line x1="374.0" y1="833.8" x2="374.0" y2="1128.5" stroke="#bababa" stroke-width="1" stroke-dasharray="1.2,1.3"/>
<line x1="408.2" y1="833.8" x2="408.2" y2="1128.5" stroke="#bababa" stroke-width="1" stroke-dasharray="1.2,1.3"/>
<line x1="442.3" y1="833.8" x2="442.3" y2="1128.5" stroke="#bababa" stroke-width="1" stroke-dasharray="1.2,1.3"/>
<line x1="476.5" y1="833.8" x2="476.5" y2="1128.5" stroke="#bababa" stroke-width="1" stroke-dasharray="1.2,1.3"/>
<text class="k" x="44.9" y="1132.8" font-size="12" fill="#222" textLength="15.4" lengthAdjust="spacingAndGlyphs">0%</text>
<text class="k" x="38.9" y="1103.3" font-size="12" fill="#222" textLength="21.4" lengthAdjust="spacingAndGlyphs">10%</text>
<text class="k" x="38.9" y="1073.9" font-size="12" fill="#222" textLength="21.4" lengthAdjust="spacingAndGlyphs">20%</text>
<text class="k" x="38.9" y="1044.4" font-size="12" fill="#222" textLength="21.4" lengthAdjust="spacingAndGlyphs">30%</text>
<text class="k" x="38.9" y="1014.9" font-size="12" fill="#222" textLength="21.4" lengthAdjust="spacingAndGlyphs">40%</text>
<text class="k" x="38.9" y="985.4" font-size="12" fill="#222" textLength="21.4" lengthAdjust="spacingAndGlyphs">50%</text>
<text class="k" x="38.9" y="956.0" font-size="12" fill="#222" textLength="21.4" lengthAdjust="spacingAndGlyphs">60%</text>
<text class="k" x="38.9" y="926.5" font-size="12" fill="#222" textLength="21.4" lengthAdjust="spacingAndGlyphs">70%</text>
<text class="k" x="38.9" y="897.0" font-size="12" fill="#222" textLength="21.4" lengthAdjust="spacingAndGlyphs">80%</text>
<text class="k" x="38.9" y="867.6" font-size="12" fill="#222" textLength="21.4" lengthAdjust="spacingAndGlyphs">90%</text>
<text class="k" x="33.0" y="838.1" font-size="12" fill="#222" textLength="27.3" lengthAdjust="spacingAndGlyphs">100%</text>
<text class="k" x="64.2" y="1146.3" font-size="12" fill="#222" textLength="5.9" lengthAdjust="spacingAndGlyphs">0</text>
<text class="k" x="98.4" y="1146.3" font-size="12" fill="#222" textLength="5.9" lengthAdjust="spacingAndGlyphs">1</text>
<text class="k" x="132.5" y="1146.3" font-size="12" fill="#222" textLength="5.9" lengthAdjust="spacingAndGlyphs">2</text>
<text class="k" x="166.7" y="1146.3" font-size="12" fill="#222" textLength="5.9" lengthAdjust="spacingAndGlyphs">3</text>
<text class="k" x="200.8" y="1146.3" font-size="12" fill="#222" textLength="5.9" lengthAdjust="spacingAndGlyphs">4</text>
<text class="k" x="235.0" y="1146.3" font-size="12" fill="#222" textLength="5.9" lengthAdjust="spacingAndGlyphs">5</text>
<text class="k" x="269.1" y="1146.3" font-size="12" fill="#222" textLength="5.9" lengthAdjust="spacingAndGlyphs">6</text>
<text class="k" x="303.3" y="1146.3" font-size="12" fill="#222" textLength="5.9" lengthAdjust="spacingAndGlyphs">7</text>
<text class="k" x="337.4" y="1146.3" font-size="12" fill="#222" textLength="5.9" lengthAdjust="spacingAndGlyphs">8</text>
<text class="k" x="371.6" y="1146.3" font-size="12" fill="#222" textLength="5.9" lengthAdjust="spacingAndGlyphs">9</text>
<text class="k" x="402.8" y="1146.3" font-size="12" fill="#222" textLength="11.9" lengthAdjust="spacingAndGlyphs">10</text>
<text class="k" x="436.9" y="1146.3" font-size="12" fill="#222" textLength="11.9" lengthAdjust="spacingAndGlyphs">11</text>
<text class="k" x="471.1" y="1146.3" font-size="12" fill="#222" textLength="11.9" lengthAdjust="spacingAndGlyphs">12</text>
<text class="k" x="505.2" y="1146.3" font-size="12" fill="#222" textLength="11.9" lengthAdjust="spacingAndGlyphs">13</text>
<text class="k" x="234.0" y="1166.0" font-size="11.8" fill="#111" textLength="109" lengthAdjust="spacingAndGlyphs">Years from Diagnosis</text>
<text class="k" transform="translate(20.6,1061.7) rotate(-90)" x="0" y="0" font-size="12.2" fill="#111" textLength="161" lengthAdjust="spacingAndGlyphs">Cumulative Proportion Surviving</text>
<polyline points="67.2,834.0 67.4,900.0 67.8,926.0 68.8,928.0 69.3,960.0 70.3,972.5 71.1,973.8 72.7,973.8 73.5,988.0 75.0,988.8 75.4,1004.7 83.8,1004.7 84.6,1035.5 85.3,1036.3 85.7,1067.2 118.6,1067.2 118.6,1082.0 139.8,1082.0 141.4,1098.7 152.9,1098.7 152.9,1113.4 257.5,1113.4" fill="none" stroke="#4a4a4a" stroke-width="2.5" stroke-linejoin="miter"/>
<polyline points="67.0,838.0 67.9,839.7 68.7,844.7 69.5,853.1 70.4,861.5 71.2,867.3 73.7,867.3 74.5,873.2 76.2,878.2 77.1,881.5 78.7,886.6 79.6,891.6 80.4,895.0 82.1,900.0 85.4,902.5 86.3,906.7 87.9,911.7 88.8,916.8 89.6,925.1 90.4,933.5 91.3,940.2 93.8,943.5 94.6,948.6 96.0,951.9 97.1,960.0 98.3,970.4 106.9,971.0 107.5,977.3 110.4,978.5 111.5,985.4 112.7,991.2 113.8,998.1 115.6,999.2 115.6,1011.3 124.8,1011.9 125.4,1018.8 134.6,1018.8 135.8,1025.8 137.5,1032.7 146.0,1033.5 148.0,1038.2 149.6,1046.3 161.1,1048.0 162.7,1054.5 164.3,1061.1 188.8,1061.1 190.5,1074.1 193.7,1077.4 195.4,1085.6 367.5,1085.6" fill="none" stroke="#555555" stroke-width="2.4" stroke-linejoin="miter"/>
<polyline points="66.7,834.5 69.6,838.9 71.0,843.7 71.6,850.5 74.4,851.9 75.1,857.4 80.5,858.1 81.9,864.2 83.3,869.7 84.7,875.2 86.0,882.1 87.4,891.6 88.8,901.2 90.1,906.7 92.2,912.2 93.6,919.0 94.9,925.9 96.3,934.1 97.7,939.6 100.0,943.7 100.6,950.2 105.2,950.8 105.8,956.0 108.7,956.5 109.8,967.5 112.7,968.7 113.8,975.0 115.0,980.2 123.1,980.8 123.7,986.5 126.5,988.8 127.1,992.3 131.2,992.3 138.1,992.9 139.2,999.2 140.4,1005.0 141.5,1011.9 143.8,1015.4 145.2,1020.0 147.9,1025.4 157.3,1025.4 168.1,1026.7 169.4,1032.4 200.8,1032.4 201.9,1042.2 268.0,1042.2 269.0,1056.5 305.0,1056.5 304.8,1071.0 391.0,1071.0 391.0,1090.0 477.5,1090.0" fill="none" stroke="#767676" stroke-width="2.0" stroke-linejoin="miter"/>
<polyline points="67.0,834.0 76.0,834.0 79.2,834.6 81.9,838.2 84.0,841.0 85.3,842.3 86.7,851.9 88.1,860.1 89.5,869.7 92.9,871.1 94.2,875.2 97.0,883.4 98.4,887.5 99.7,888.9 102.2,892.5 103.0,895.0 104.7,900.0 105.5,906.7 107.2,911.7 109.7,915.9 111.4,919.3 113.0,923.5 113.9,928.5 114.7,934.3 116.4,937.7 118.9,939.4 121.4,941.9 123.1,945.2 124.7,947.7 126.4,950.2 129.0,955.0 131.0,959.0 133.1,962.1 138.5,963.5 142.5,964.8 143.8,970.2 146.5,976.9 150.6,982.3 157.3,985.0 161.3,987.7 162.7,993.1 164.0,997.1 166.7,998.5 170.8,1001.2 174.8,1002.5 178.9,1003.9 186.9,1006.5 191.0,1007.9 195.0,1010.6 200.4,1011.9 205.8,1014.6 208.5,1016.0 211.2,1018.7 219.2,1019.5 232.7,1019.5 234.0,1020.5 251.5,1020.5 254.2,1024.0 258.3,1028.5 316.5,1028.5 316.5,1034.8 352.3,1034.8 352.3,1042.3 490.0,1042.3" fill="none" stroke="#000" stroke-width="2.3" stroke-linejoin="miter"/>
<polyline points="72.0,834.5 78.7,834.5 80.4,835.5 82.1,836.4 91.3,837.2 92.1,838.9 92.1,845.6 100.5,845.6 101.3,859.0 103.8,863.1 111.4,863.1 112.2,868.2 113.9,873.2 115.5,875.7 117.2,876.5 122.2,876.5 125.6,878.2 127.3,879.9 130.6,880.7 130.6,897.5 135.6,898.4 137.3,901.7 139.0,906.7 154.5,907.8 156.2,911.1 177.4,911.1 179.0,916.6 190.5,916.6 192.1,923.2 195.4,926.4 198.6,931.3 236.2,931.3 237.9,942.3 475.0,942.3" fill="none" stroke="#111" stroke-width="2.1" stroke-linejoin="miter"/>
<line x1="116.0" y1="873.8" x2="116.0" y2="878.0" stroke="#333" stroke-width="1.3"/>
<line x1="119.0" y1="874.4" x2="119.0" y2="878.6" stroke="#333" stroke-width="1.3"/>
<line x1="122.0" y1="874.4" x2="122.0" y2="878.6" stroke="#333" stroke-width="1.3"/>
<line x1="126.0" y1="876.5" x2="126.0" y2="880.7" stroke="#333" stroke-width="1.3"/>
<line x1="146.0" y1="905.1" x2="146.0" y2="909.3" stroke="#333" stroke-width="1.3"/>
<line x1="150.0" y1="905.4" x2="150.0" y2="909.6" stroke="#333" stroke-width="1.3"/>
<line x1="154.0" y1="905.7" x2="154.0" y2="909.9" stroke="#333" stroke-width="1.3"/>
<line x1="158.0" y1="909.0" x2="158.0" y2="913.2" stroke="#333" stroke-width="1.3"/>
<line x1="164.3" y1="909.0" x2="164.3" y2="913.2" stroke="#333" stroke-width="1.3"/>
<line x1="199.0" y1="929.2" x2="199.0" y2="933.4" stroke="#333" stroke-width="1.3"/>
<line x1="204.0" y1="929.2" x2="204.0" y2="933.4" stroke="#333" stroke-width="1.3"/>
<line x1="209.0" y1="929.2" x2="209.0" y2="933.4" stroke="#333" stroke-width="1.3"/>
<line x1="214.0" y1="929.2" x2="214.0" y2="933.4" stroke="#333" stroke-width="1.3"/>
<line x1="219.0" y1="929.2" x2="219.0" y2="933.4" stroke="#333" stroke-width="1.3"/>
<line x1="254.0" y1="940.2" x2="254.0" y2="944.4" stroke="#333" stroke-width="1.3"/>
<line x1="261.0" y1="940.2" x2="261.0" y2="944.4" stroke="#333" stroke-width="1.3"/>
<line x1="267.0" y1="940.2" x2="267.0" y2="944.4" stroke="#333" stroke-width="1.3"/>
<line x1="275.0" y1="940.2" x2="275.0" y2="944.4" stroke="#333" stroke-width="1.3"/>
<line x1="282.0" y1="940.2" x2="282.0" y2="944.4" stroke="#333" stroke-width="1.3"/>
<line x1="290.0" y1="940.2" x2="290.0" y2="944.4" stroke="#333" stroke-width="1.3"/>
<line x1="297.0" y1="940.2" x2="297.0" y2="944.4" stroke="#333" stroke-width="1.3"/>
<line x1="314.0" y1="940.2" x2="314.0" y2="944.4" stroke="#333" stroke-width="1.3"/>
<line x1="319.0" y1="940.2" x2="319.0" y2="944.4" stroke="#333" stroke-width="1.3"/>
<line x1="324.0" y1="940.2" x2="324.0" y2="944.4" stroke="#333" stroke-width="1.3"/>
<line x1="329.0" y1="940.2" x2="329.0" y2="944.4" stroke="#333" stroke-width="1.3"/>
<line x1="334.0" y1="940.2" x2="334.0" y2="944.4" stroke="#333" stroke-width="1.3"/>
<line x1="350.0" y1="940.2" x2="350.0" y2="944.4" stroke="#333" stroke-width="1.3"/>
<line x1="355.0" y1="940.2" x2="355.0" y2="944.4" stroke="#333" stroke-width="1.3"/>
<line x1="360.0" y1="940.2" x2="360.0" y2="944.4" stroke="#333" stroke-width="1.3"/>
<line x1="364.0" y1="940.2" x2="364.0" y2="944.4" stroke="#333" stroke-width="1.3"/>
<line x1="367.0" y1="940.2" x2="367.0" y2="944.4" stroke="#333" stroke-width="1.3"/>
<line x1="376.0" y1="940.2" x2="376.0" y2="944.4" stroke="#333" stroke-width="1.3"/>
<line x1="381.0" y1="940.2" x2="381.0" y2="944.4" stroke="#333" stroke-width="1.3"/>
<line x1="385.0" y1="940.2" x2="385.0" y2="944.4" stroke="#333" stroke-width="1.3"/>
<line x1="412.0" y1="940.2" x2="412.0" y2="944.4" stroke="#333" stroke-width="1.3"/>
<line x1="416.0" y1="940.2" x2="416.0" y2="944.4" stroke="#333" stroke-width="1.3"/>
<line x1="420.0" y1="940.2" x2="420.0" y2="944.4" stroke="#333" stroke-width="1.3"/>
<line x1="436.0" y1="940.2" x2="436.0" y2="944.4" stroke="#333" stroke-width="1.3"/>
<line x1="441.0" y1="940.2" x2="441.0" y2="944.4" stroke="#333" stroke-width="1.3"/>
<line x1="449.0" y1="940.2" x2="449.0" y2="944.4" stroke="#333" stroke-width="1.3"/>
<line x1="453.0" y1="940.2" x2="453.0" y2="944.4" stroke="#333" stroke-width="1.3"/>
<line x1="457.0" y1="940.2" x2="457.0" y2="944.4" stroke="#333" stroke-width="1.3"/>
<line x1="460.0" y1="940.2" x2="460.0" y2="944.4" stroke="#333" stroke-width="1.3"/>
<line x1="474.5" y1="940.2" x2="474.5" y2="944.4" stroke="#333" stroke-width="1.3"/>
<line x1="129.0" y1="952.9" x2="129.0" y2="957.1" stroke="#333" stroke-width="1.3"/>
<line x1="133.0" y1="959.9" x2="133.0" y2="964.1" stroke="#333" stroke-width="1.3"/>
<line x1="137.0" y1="961.0" x2="137.0" y2="965.2" stroke="#333" stroke-width="1.3"/>
<line x1="163.0" y1="991.9" x2="163.0" y2="996.1" stroke="#333" stroke-width="1.3"/>
<line x1="165.0" y1="995.5" x2="165.0" y2="999.7" stroke="#333" stroke-width="1.3"/>
<line x1="176.0" y1="1000.8" x2="176.0" y2="1005.0" stroke="#333" stroke-width="1.3"/>
<line x1="180.0" y1="1002.2" x2="180.0" y2="1006.4" stroke="#333" stroke-width="1.3"/>
<line x1="185.0" y1="1003.8" x2="185.0" y2="1008.0" stroke="#333" stroke-width="1.3"/>
<line x1="189.0" y1="1005.1" x2="189.0" y2="1009.3" stroke="#333" stroke-width="1.3"/>
<line x1="198.0" y1="1009.2" x2="198.0" y2="1013.4" stroke="#333" stroke-width="1.3"/>
<line x1="202.0" y1="1010.6" x2="202.0" y2="1014.8" stroke="#333" stroke-width="1.3"/>
<line x1="205.8" y1="1012.5" x2="205.8" y2="1016.7" stroke="#333" stroke-width="1.3"/>
<line x1="214.0" y1="1016.9" x2="214.0" y2="1021.1" stroke="#333" stroke-width="1.3"/>
<line x1="218.0" y1="1017.3" x2="218.0" y2="1021.5" stroke="#333" stroke-width="1.3"/>
<line x1="222.0" y1="1017.4" x2="222.0" y2="1021.6" stroke="#333" stroke-width="1.3"/>
<line x1="233.0" y1="1017.6" x2="233.0" y2="1021.8" stroke="#333" stroke-width="1.3"/>
<line x1="238.0" y1="1018.4" x2="238.0" y2="1022.6" stroke="#333" stroke-width="1.3"/>
<line x1="243.0" y1="1018.4" x2="243.0" y2="1022.6" stroke="#333" stroke-width="1.3"/>
<line x1="247.0" y1="1018.4" x2="247.0" y2="1022.6" stroke="#333" stroke-width="1.3"/>
<line x1="251.0" y1="1018.4" x2="251.0" y2="1022.6" stroke="#333" stroke-width="1.3"/>
<line x1="260.0" y1="1026.4" x2="260.0" y2="1030.6" stroke="#333" stroke-width="1.3"/>
<line x1="262.5" y1="1026.4" x2="262.5" y2="1030.6" stroke="#333" stroke-width="1.3"/>
<line x1="290.0" y1="1026.4" x2="290.0" y2="1030.6" stroke="#333" stroke-width="1.3"/>
<line x1="325.0" y1="1032.7" x2="325.0" y2="1036.9" stroke="#333" stroke-width="1.3"/>
<line x1="330.0" y1="1032.7" x2="330.0" y2="1036.9" stroke="#333" stroke-width="1.3"/>
<line x1="335.0" y1="1032.7" x2="335.0" y2="1036.9" stroke="#333" stroke-width="1.3"/>
<line x1="340.0" y1="1032.7" x2="340.0" y2="1036.9" stroke="#333" stroke-width="1.3"/>
<line x1="358.0" y1="1040.2" x2="358.0" y2="1044.4" stroke="#333" stroke-width="1.3"/>
<line x1="363.0" y1="1040.2" x2="363.0" y2="1044.4" stroke="#333" stroke-width="1.3"/>
<line x1="368.0" y1="1040.2" x2="368.0" y2="1044.4" stroke="#333" stroke-width="1.3"/>
<line x1="373.0" y1="1040.2" x2="373.0" y2="1044.4" stroke="#333" stroke-width="1.3"/>
<line x1="380.0" y1="1040.2" x2="380.0" y2="1044.4" stroke="#333" stroke-width="1.3"/>
<line x1="386.0" y1="1040.2" x2="386.0" y2="1044.4" stroke="#333" stroke-width="1.3"/>
<line x1="392.0" y1="1040.2" x2="392.0" y2="1044.4" stroke="#333" stroke-width="1.3"/>
<line x1="437.5" y1="1040.2" x2="437.5" y2="1044.4" stroke="#333" stroke-width="1.3"/>
<line x1="442.5" y1="1040.2" x2="442.5" y2="1044.4" stroke="#333" stroke-width="1.3"/>
<line x1="489.5" y1="1040.2" x2="489.5" y2="1044.4" stroke="#333" stroke-width="1.3"/>
<line x1="157.3" y1="1023.3" x2="157.3" y2="1027.5" stroke="#767676" stroke-width="1.3"/>
<line x1="187.0" y1="1030.3" x2="187.0" y2="1034.5" stroke="#767676" stroke-width="1.3"/>
<line x1="192.0" y1="1030.3" x2="192.0" y2="1034.5" stroke="#767676" stroke-width="1.3"/>
<line x1="197.7" y1="1030.3" x2="197.7" y2="1034.5" stroke="#767676" stroke-width="1.3"/>
<line x1="360.0" y1="1068.9" x2="360.0" y2="1073.1" stroke="#767676" stroke-width="1.3"/>
<line x1="415.0" y1="1087.9" x2="415.0" y2="1092.1" stroke="#767676" stroke-width="1.3"/>
<line x1="477.5" y1="1087.9" x2="477.5" y2="1092.1" stroke="#767676" stroke-width="1.3"/>
<line x1="275.0" y1="1083.5" x2="275.0" y2="1087.7" stroke="#555555" stroke-width="1.3"/>
<line x1="320.0" y1="1083.5" x2="320.0" y2="1087.7" stroke="#555555" stroke-width="1.3"/>
<line x1="367.0" y1="1083.5" x2="367.0" y2="1087.7" stroke="#555555" stroke-width="1.3"/>
<line x1="257.5" y1="1111.3" x2="257.5" y2="1115.5" stroke="#4a4a4a" stroke-width="1.3"/>
<line x1="66.3" y1="833.8" x2="66.3" y2="1128.5" stroke="#5a5a5a" stroke-width="1.3"/>
<line x1="65.7" y1="833.8" x2="511.3" y2="833.8" stroke="#111" stroke-width="1.5"/>
<line x1="65.7" y1="1129.0" x2="511.3" y2="1129.0" stroke="#1a1a1a" stroke-width="1.6"/>
<line x1="510.6" y1="833.8" x2="510.6" y2="1128.5" stroke="#111" stroke-width="1.5"/>
<line x1="100.8" y1="1128.5" x2="100.8" y2="1126.0" stroke="#111" stroke-width="1.2"/>
<line x1="100.8" y1="833.8" x2="100.8" y2="836.3" stroke="#111" stroke-width="1.2"/>
<line x1="135.0" y1="1128.5" x2="135.0" y2="1126.0" stroke="#111" stroke-width="1.2"/>
<line x1="135.0" y1="833.8" x2="135.0" y2="836.3" stroke="#111" stroke-width="1.2"/>
<line x1="169.1" y1="1128.5" x2="169.1" y2="1126.0" stroke="#111" stroke-width="1.2"/>
<line x1="169.1" y1="833.8" x2="169.1" y2="836.3" stroke="#111" stroke-width="1.2"/>
<line x1="203.3" y1="1128.5" x2="203.3" y2="1126.0" stroke="#111" stroke-width="1.2"/>
<line x1="203.3" y1="833.8" x2="203.3" y2="836.3" stroke="#111" stroke-width="1.2"/>
<line x1="237.4" y1="1128.5" x2="237.4" y2="1126.0" stroke="#111" stroke-width="1.2"/>
<line x1="237.4" y1="833.8" x2="237.4" y2="836.3" stroke="#111" stroke-width="1.2"/>
<line x1="271.6" y1="1128.5" x2="271.6" y2="1126.0" stroke="#111" stroke-width="1.2"/>
<line x1="271.6" y1="833.8" x2="271.6" y2="836.3" stroke="#111" stroke-width="1.2"/>
<line x1="305.8" y1="1128.5" x2="305.8" y2="1126.0" stroke="#111" stroke-width="1.2"/>
<line x1="305.8" y1="833.8" x2="305.8" y2="836.3" stroke="#111" stroke-width="1.2"/>
<line x1="339.9" y1="1128.5" x2="339.9" y2="1126.0" stroke="#111" stroke-width="1.2"/>
<line x1="339.9" y1="833.8" x2="339.9" y2="836.3" stroke="#111" stroke-width="1.2"/>
<line x1="374.0" y1="1128.5" x2="374.0" y2="1126.0" stroke="#111" stroke-width="1.2"/>
<line x1="374.0" y1="833.8" x2="374.0" y2="836.3" stroke="#111" stroke-width="1.2"/>
<line x1="408.2" y1="1128.5" x2="408.2" y2="1126.0" stroke="#111" stroke-width="1.2"/>
<line x1="408.2" y1="833.8" x2="408.2" y2="836.3" stroke="#111" stroke-width="1.2"/>
<line x1="442.3" y1="1128.5" x2="442.3" y2="1126.0" stroke="#111" stroke-width="1.2"/>
<line x1="442.3" y1="833.8" x2="442.3" y2="836.3" stroke="#111" stroke-width="1.2"/>
<line x1="476.5" y1="1128.5" x2="476.5" y2="1126.0" stroke="#111" stroke-width="1.2"/>
<line x1="476.5" y1="833.8" x2="476.5" y2="836.3" stroke="#111" stroke-width="1.2"/>
<line x1="66.7" y1="863.3" x2="69.2" y2="863.3" stroke="#111" stroke-width="1.2"/>
<line x1="510.6" y1="863.3" x2="508.1" y2="863.3" stroke="#111" stroke-width="1.2"/>
<line x1="66.7" y1="892.7" x2="69.2" y2="892.7" stroke="#111" stroke-width="1.2"/>
<line x1="510.6" y1="892.7" x2="508.1" y2="892.7" stroke="#111" stroke-width="1.2"/>
<line x1="66.7" y1="922.2" x2="69.2" y2="922.2" stroke="#111" stroke-width="1.2"/>
<line x1="510.6" y1="922.2" x2="508.1" y2="922.2" stroke="#111" stroke-width="1.2"/>
<line x1="66.7" y1="951.7" x2="69.2" y2="951.7" stroke="#111" stroke-width="1.2"/>
<line x1="510.6" y1="951.7" x2="508.1" y2="951.7" stroke="#111" stroke-width="1.2"/>
<line x1="66.7" y1="981.1" x2="69.2" y2="981.1" stroke="#111" stroke-width="1.2"/>
<line x1="510.6" y1="981.1" x2="508.1" y2="981.1" stroke="#111" stroke-width="1.2"/>
<line x1="66.7" y1="1010.6" x2="69.2" y2="1010.6" stroke="#111" stroke-width="1.2"/>
<line x1="510.6" y1="1010.6" x2="508.1" y2="1010.6" stroke="#111" stroke-width="1.2"/>
<line x1="66.7" y1="1040.1" x2="69.2" y2="1040.1" stroke="#111" stroke-width="1.2"/>
<line x1="510.6" y1="1040.1" x2="508.1" y2="1040.1" stroke="#111" stroke-width="1.2"/>
<line x1="66.7" y1="1069.6" x2="69.2" y2="1069.6" stroke="#111" stroke-width="1.2"/>
<line x1="510.6" y1="1069.6" x2="508.1" y2="1069.6" stroke="#111" stroke-width="1.2"/>
<line x1="66.7" y1="1099.0" x2="69.2" y2="1099.0" stroke="#111" stroke-width="1.2"/>
<line x1="510.6" y1="1099.0" x2="508.1" y2="1099.0" stroke="#111" stroke-width="1.2"/>
<line x1="311.9" y1="857.2" x2="329.4" y2="857.2" stroke="#4a4a4a" stroke-width="2.8"/>
<text class="k" x="336" y="861.4" font-size="11.8" fill="#111" textLength="82" lengthAdjust="spacingAndGlyphs">75-84 yrs, n=19</text>
<line x1="311.9" y1="869.6" x2="329.4" y2="869.6" stroke="#555555" stroke-width="1.9"/>
<text class="k" x="336" y="873.8" font-size="11.8" fill="#111" textLength="82" lengthAdjust="spacingAndGlyphs">65-74 yrs, n=43</text>
<line x1="311.9" y1="881.9" x2="329.4" y2="881.9" stroke="#767676" stroke-width="1.9"/>
<text class="k" x="336" y="886.1" font-size="11.8" fill="#111" textLength="82" lengthAdjust="spacingAndGlyphs">55-64 yrs, n=48</text>
<line x1="311.9" y1="894.2" x2="329.4" y2="894.2" stroke="#000" stroke-width="3"/>
<text class="k" x="336" y="898.5" font-size="11.8" fill="#111" textLength="86.5" lengthAdjust="spacingAndGlyphs">30-54 yrs, n=136</text>
<line x1="311.9" y1="906.6" x2="329.4" y2="906.6" stroke="#111" stroke-width="2"/>
<text class="k" x="336" y="910.8" font-size="11.8" fill="#111" textLength="74" lengthAdjust="spacingAndGlyphs">&lt;30 yrs, n=69</text>
</svg>
</body></html>
